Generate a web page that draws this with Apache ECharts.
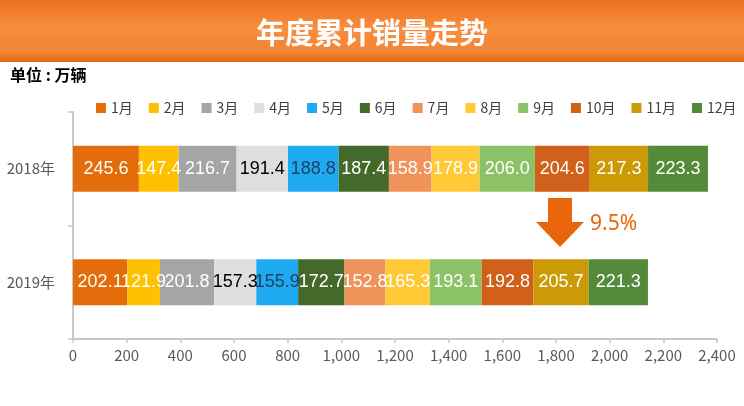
<!DOCTYPE html>
<html>
<head>
<meta charset="utf-8">
<script src="https://cdn.jsdelivr.net/npm/echarts@6/dist/echarts.min.js"></script>
<style>
  html, body { margin: 0; padding: 0; background: #fff; }
  #main { width: 744px; height: 406px; }
</style>
</head>
<body>
<div id="main"></div>
<script>
// 数据
const years = ['2019年', '2018年'];
const months = ['1月', '2月', '3月', '4月', '5月', '6月', '7月', '8月', '9月', '10月', '11月', '12月'];
const sales2018 = [245.6, 147.4, 216.7, 191.4, 188.8, 187.4, 158.9, 178.9, 206.0, 204.6, 217.3, 223.3];
const sales2019 = [202.1, 121.9, 201.8, 157.3, 155.9, 172.7, 152.8, 165.3, 193.1, 192.8, 205.7, 221.3];
const monthColors = ['#e46c0a', '#ffc000', '#a5a5a5', '#dedede', '#1eaaf1', '#446a2b',
  '#f0935b', '#ffc936', '#8cc267', '#d1601a', '#cc9a06', '#558a3b'];
const labelColors = ['#fff', '#fff', '#fff', '#000', '#1f3f66', '#fff',
  '#fff', '#fff', '#fff', '#fff', '#fff', '#fff'];
const dropText = '9.5%';

const chart = echarts.init(document.getElementById('main'));

const series = months.map((m, i) => ({
  name: m,
  type: 'bar',
  stack: 'total',
  barWidth: 46,
  data: [sales2019[i], sales2018[i]],
  itemStyle: { color: monthColors[i] },
  label: {
    show: true,
    position: 'inside',
    color: labelColors[i],
    fontSize: 18,
    fontFamily: 'Liberation Sans, Arial, sans-serif',
    formatter: p => p.value.toFixed(1)
  }
}));

const option = {
  animation: false,
  title: {
    text: '年度累计销量走势',
    left: 'center',
    top: 13,
    textStyle: {
      color: '#fff',
      fontSize: 29,
      fontWeight: 'bold',
      fontFamily: 'Noto Sans CJK SC'
    }
  },
  graphic: [
    {
      type: 'rect',
      z: -1,
      shape: { x: 0, y: 0, width: 744, height: 62 },
      style: {
        fill: new echarts.graphic.LinearGradient(0, 0, 0, 1, [
          { offset: 0, color: '#e8701c' },
          { offset: 0.45, color: '#f88e3e' },
          { offset: 0.85, color: '#f38433' },
          { offset: 1, color: '#e2670f' }
        ])
      }
    },
    {
      type: 'text',
      left: 10,
      top: 67,
      style: {
        text: '单位 : 万辆',
        fill: '#000',
        font: 'bold 16px "Noto Sans CJK SC"'
      }
    },
    {
      type: 'polygon',
      shape: {
        points: [[548, 198], [572, 198], [572, 222], [584, 222], [560, 247], [536, 222], [548, 222]]
      },
      style: { fill: '#e8650a' }
    },
    {
      type: 'text',
      left: 590,
      top: 214,
      style: {
        text: dropText,
        fill: '#e8650a',
        font: '21px "Noto Sans", sans-serif'
      }
    }
  ],
  legend: {
    data: months,
    left: 91,
    top: 96,
    width: 653,
    icon: 'rect',
    itemWidth: 10,
    itemHeight: 10,
    itemGap: 16,
    textStyle: {
      color: '#404040',
      fontSize: 14,
      fontFamily: 'Noto Sans CJK SC'
    }
  },
  grid: {
    left: 73,
    right: 27,
    top: 112,
    bottom: 67
  },
  xAxis: {
    type: 'value',
    min: 0,
    max: 2400,
    interval: 200,
    splitLine: { show: false },
    axisLine: { show: true, lineStyle: { color: '#c8c8c8', width: 2 } },
    axisTick: { show: true, length: 4, lineStyle: { color: '#c8c8c8', width: 1.5 } },
    axisLabel: {
      color: '#595959',
      fontSize: 15,
      margin: 9,
      fontFamily: 'Noto Sans CJK SC',
      formatter: v => v.toLocaleString('en-US')
    }
  },
  yAxis: {
    type: 'category',
    data: years,
    axisLine: { show: true, lineStyle: { color: '#c8c8c8', width: 2 } },
    axisTick: { show: true, length: 5, lineStyle: { color: '#c8c8c8', width: 1.5 } },
    axisLabel: {
      color: '#595959',
      fontSize: 15,
      margin: 18,
      fontFamily: 'Noto Sans CJK SC'
    }
  },
  series: series
};

chart.setOption(option);
</script>
</body>
</html>
